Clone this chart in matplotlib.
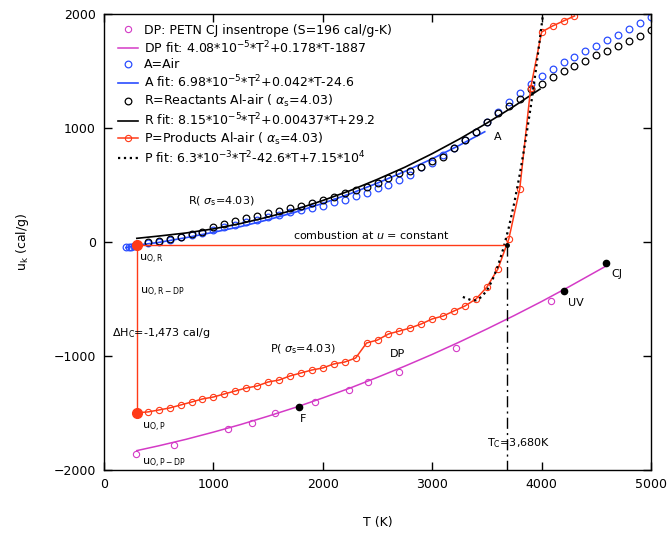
import numpy as np
import matplotlib
matplotlib.use("Agg")
import matplotlib.pyplot as plt

# --- data ---
# DP: PETN CJ insentrope
dp_T = [292, 640, 1133, 1353, 1563, 1929, 2240, 2413, 2697, 3218, 4086]
dp_u = [-1860, -1781, -1640, -1588, -1500, -1400, -1298, -1228, -1140, -930, -518]
dpfit_T = [300, 500, 750, 1000, 1250, 1500, 1750, 2000, 2250, 2500, 2750,
           3000, 3250, 3500, 3750, 4000, 4250, 4589]
dpfit_u = [-1830, -1788, -1731, -1668, -1601, -1528, -1451, -1368, -1281,
           -1187, -1089, -986, -877, -763, -645, -522, -393, -211]
state_names = ["F", "UV", "CJ"]
state_T = [1782, 4205, 4589]
state_u = [-1447, -430, -184]

# A = air
air_T = [200, 225, 250, 275, 298] + list(range(400, 5001, 100))
air_u = [-45, -42, -40, -35, -30,
         -9, 0, 18, 44, 61, 79, 105, 130, 152, 175, 193, 220, 240, 263, 280,
         298, 316, 351, 368, 404, 430, 474, 500, 544, 588, 658, 693, 763, 825,
         895, 965, 1053, 1140, 1228, 1307, 1386, 1456, 1518, 1579, 1623, 1675,
         1719, 1772, 1816, 1868, 1921, 1974]
airfit_T = [200, 300, 500, 750, 1000, 1250, 1500, 1750, 2000, 2250, 2500,
            2750, 3000, 3250, 3480]
airfit_u = [-50, -28, -4, 38, 85, 135, 195, 262, 339, 423, 517, 619, 730, 849, 967]

# R = reactants Al-air
reac_T = list(range(400, 5001, 100))
reac_u = [0, 9, 26, 44, 70, 88, 132, 158, 184, 211, 228, 254, 272, 298, 316,
          342, 368, 395, 430, 456, 482, 518, 561, 605, 623, 658, 711, 746, 825,
          895, 965, 1053, 1132, 1193, 1254, 1342, 1386, 1447, 1500, 1544, 1588,
          1640, 1675, 1719, 1763, 1807, 1860]
reacfit_T = [300, 500, 750, 1000, 1250, 1500, 1750, 2000, 2250, 2500, 2750,
             3000, 3250, 3500, 3750, 3985]
reacfit_u = [32, 52, 79, 115, 162, 219, 285, 364, 451, 550, 656, 775, 904,
             1043, 1192, 1341]

# P = products Al-air
prod_T = list(range(300, 4301, 100))
prod_u = [-1498, -1491, -1474, -1456, -1430, -1404, -1377, -1360, -1333, -1307,
          -1281, -1263, -1228, -1211, -1175, -1149, -1123, -1105, -1070, -1053,
          -1018, -886, -860, -807, -781, -754, -719, -675, -649, -605, -561,
          -500, -395, -237, 26, 465, 1351, 1842, 1895, 1939, 1982]
prodfit_T = [3280, 3350, 3400, 3450, 3500, 3550, 3600, 3650, 3700, 3750,
             3800, 3850, 3900, 3950, 4013]
prodfit_u = [-482, -508, -512, -482, -425, -334, -212, -58, 127, 343, 592,
             873, 1183, 1527, 2000]

# combustion at constant u
T0 = 300
u_OR = -25
u_OP = -1498
T_C = 3680

magenta = "#d43ac6"
blue = "#2a4dff"
red = "#ff3a17"
fs = 8

fig = plt.figure(figsize=(6.68, 5.34), dpi=100)
ax = fig.add_axes([0.1557, 0.1199, 0.8189, 0.8539])

h_dp, = ax.plot(dp_T, dp_u, "o", mfc="none", mec=magenta, ms=4.5, mew=0.8)
h_dpfit, = ax.plot(dpfit_T, dpfit_u, "-", color=magenta, lw=1.1)
h_air, = ax.plot(air_T, air_u, "o", mfc="none", mec=blue, ms=4.8, mew=0.9)
h_airfit, = ax.plot(airfit_T, airfit_u, "-", color=blue, lw=1.2)
h_reac, = ax.plot(reac_T, reac_u, "o", mfc="none", mec="black", ms=4.8, mew=0.9)
h_reacfit, = ax.plot(reacfit_T, reacfit_u, "-", color="black", lw=1.2)
h_prod, = ax.plot(prod_T, prod_u, "-o", color=red, mfc="none", mec=red,
                  ms=4.5, mew=0.8, lw=1.1)
h_prodfit, = ax.plot(prodfit_T, prodfit_u, ":", color="black", lw=1.6)

# combustion path
ax.plot([T0, T_C], [u_OR, u_OR], "-", color=red, lw=1)
ax.plot([T0, T0], [u_OR, u_OP], "-", color=red, lw=1)
ax.plot([T0, T0], [u_OR, u_OP], "o", color=red, ms=7, zorder=5)
ax.plot([T_C, T_C], [u_OR, -2000], color="black", lw=1,
        dashes=[8, 3, 1.5, 3])
ax.plot([T_C], [u_OR], "o", color="black", ms=2.5, zorder=6)
ax.plot(state_T, state_u, "o", color="black", ms=4.5, zorder=6)

# annotations
ax.text(320, -150, r"u$_{\rm O,R}$", fontsize=fs, va="center")
ax.text(330, -440, r"u$_{\rm O,R-DP}$", fontsize=fs, va="center")
ax.text(73, -798, r"$\Delta$H$_{\rm C}$=-1,473 cal/g", fontsize=fs, va="center")
ax.text(347, -1623, r"u$_{\rm O,P}$", fontsize=fs, va="center")
ax.text(347, -1939, r"u$_{\rm O,P-DP}$", fontsize=fs, va="center")
ax.text(768, 360, r"R( $\sigma_{\rm s}$=4.03)", fontsize=fs, va="center")
ax.text(1517, -939, r"P( $\sigma_{\rm s}$=4.03)", fontsize=fs, va="center")
ax.text(1728, 61, r"combustion at $u$ = constant", fontsize=fs, va="center")
ax.text(3565, 921, "A", fontsize=fs, va="center")
ax.text(2610, -982, "DP", fontsize=fs, va="center")
ax.text(3501, -1763, r"T$_{\rm C}$=3,680K", fontsize=fs, va="center")
state_offsets = [(38, -106), (36, -105), (45, -97)]
for name, t, u, (dx, dy) in zip(state_names, state_T, state_u, state_offsets):
    ax.text(t + dx, u + dy, name, fontsize=fs, va="center",
            ha="center" if name == "F" else "left")

# legend
legend_handles = [h_dp, h_dpfit, h_air, h_airfit, h_reac, h_reacfit, h_prod, h_prodfit]
legend_labels = [
    "DP: PETN CJ insentrope (S=196 cal/g-K)",
    r"DP fit: 4.08*10$^{-5}$*T$^{2}$+0.178*T-1887",
    "A=Air",
    r"A fit: 6.98*10$^{-5}$*T$^{2}$+0.042*T-24.6",
    r"R=Reactants Al-air ( $\alpha_{\rm s}$=4.03)",
    r"R fit: 8.15*10$^{-5}$*T$^{2}$+0.00437*T+29.2",
    r"P=Products Al-air ( $\alpha_{\rm s}$=4.03)",
    r"P fit: 6.3*10$^{-3}$*T$^{2}$-42.6*T+7.15*10$^{4}$",
]
ax.legend(legend_handles, legend_labels, loc="upper left",
          bbox_to_anchor=(0.012, 0.995), frameon=False, fontsize=9,
          numpoints=1, handlelength=1.6, handletextpad=0.45,
          labelspacing=0.2, borderaxespad=0.2)

ax.set_xlim(0, 5000)
ax.set_ylim(-2000, 2000)
ax.set_xticks(range(0, 5001, 1000))
ax.set_yticks(range(-2000, 2001, 1000))
ax.tick_params(direction="in", top=True, right=True, length=6, width=1,
               labelsize=9, pad=6)
for s in ax.spines.values():
    s.set_linewidth(1)
ax.set_xlabel("T (K)", fontsize=9, labelpad=18)
ax.set_ylabel(r"u$_{\rm k}$ (cal/g)", fontsize=9, labelpad=16)

fig.savefig("out.png", dpi=100)
